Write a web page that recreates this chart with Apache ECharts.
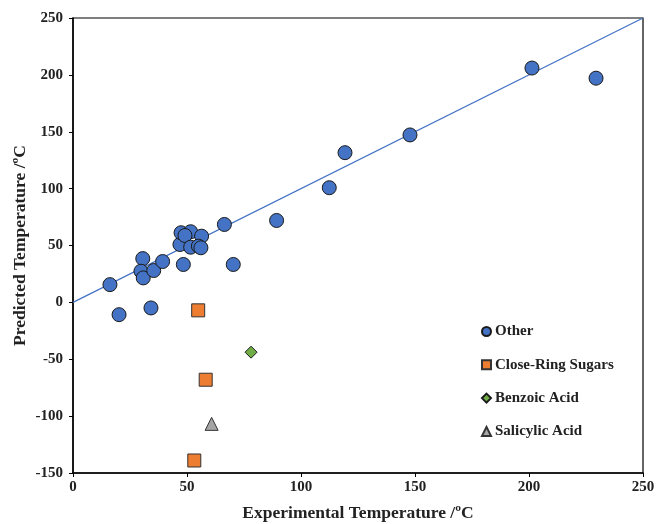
<!DOCTYPE html>
<html><head><meta charset="utf-8">
<script src="https://cdn.jsdelivr.net/npm/echarts@6/dist/echarts.min.js"></script>
<style>html,body{margin:0;padding:0;background:#fff}#c{width:657px;height:524px}</style>
</head><body><div id="c"></div>
<script>
// Other
const otherX = [16.2, 20.2, 30.6, 29.8, 30.8, 34.2, 35.4, 39.3, 46.9, 47.4, 51.6, 49.1, 48.4, 51.6, 56.4, 55.0, 56.1, 66.4, 70.3, 89.3, 112.4, 119.3, 147.8, 201.3, 229.4];
const otherY = [15.6, -10.8, 38.5, 27.4, 21.5, -4.9, 28.0, 35.9, 50.9, 61.2, 62.1, 58.8, 33.3, 48.5, 58.2, 49.4, 48.0, 68.5, 33.3, 72.0, 100.8, 131.6, 147.2, 206.0, 197.1];
// Close-Ring Sugars
const sugarX = [54.9, 58.2, 53.2];
const sugarY = [-7.0, -68.0, -139.0];
// Benzoic Acid
const benzoicX = [78.1];
const benzoicY = [-43.8];
// Salicylic Acid
const salicylicX = [60.8];
const salicylicY = [-106.8];
// y = x reference line
const lineX = [0, 250];
const lineY = [0, 250];
const seriesNames = ['Other', 'Close-Ring Sugars', 'Benzoic Acid', 'Salicylic Acid'];

const zip = (a, b) => a.map((v, i) => [v, b[i]]);
const F = 'Liberation Serif, Times New Roman, serif';

const chart = echarts.init(document.getElementById('c'));
chart.setOption({
  animation: false,
  backgroundColor: '#fff',
  grid: { left: 73, right: 14, top: 18, bottom: 51, show: true, borderColor: '#000', borderWidth: 1.2,
          containLabel: false, outerBoundsMode: 'none' },
  xAxis: {
    type: 'value', min: 0, max: 250, interval: 50,
    name: 'Experimental Temperature /ºC', nameLocation: 'middle', nameGap: 31, nameMoveOverlap: false,
    nameTextStyle: { fontFamily: F, fontWeight: 'bold', fontSize: 17.5, color: '#222' },
    axisLine: { show: true, onZero: false, lineStyle: { color: '#000', width: 1.5 } },
    axisTick: { show: true, inside: false, length: 4, lineStyle: { color: '#000', width: 1 } },
    axisLabel: { fontFamily: F, fontWeight: 'bold', fontSize: 15, color: '#222', margin: 7 },
    splitLine: { show: false }
  },
  yAxis: {
    type: 'value', min: -150, max: 250, interval: 50,
    name: 'Predicted Temperature /ºC', nameLocation: 'middle', nameGap: 44, nameMoveOverlap: false,
    nameTextStyle: { fontFamily: F, fontWeight: 'bold', fontSize: 17.5, color: '#222' },
    axisLine: { show: true, onZero: false, lineStyle: { color: '#000', width: 1.5 } },
    axisTick: { show: true, inside: false, length: 4, lineStyle: { color: '#000', width: 1 } },
    axisLabel: { fontFamily: F, fontWeight: 'bold', fontSize: 15, color: '#222', margin: 10 },
    splitLine: { show: false }
  },
  legend: {
    data: seriesNames,
    orient: 'vertical', left: 476, top: 319, itemGap: 18.3,
    itemWidth: 9, itemHeight: 9,
    textStyle: { fontFamily: F, fontWeight: 'bold', fontSize: 15, color: '#222', padding: [0, 0, 0, -1] }
  },
  series: [
    { name: 'y=x', type: 'line', data: zip(lineX, lineY), symbol: 'none', silent: true,
      lineStyle: { color: '#4472C4', width: 1.2 }, z: 1 },
    { name: seriesNames[0], type: 'scatter', data: zip(otherX, otherY), symbol: 'circle', symbolSize: 14,
      itemStyle: { color: '#4472C4', borderColor: '#1a1a1a', borderWidth: 1, opacity: 1 }, z: 3 },
    { name: seriesNames[1], type: 'scatter', data: zip(sugarX, sugarY), symbol: 'rect', symbolSize: 13,
      itemStyle: { color: '#ED7D31', borderColor: '#333', borderWidth: 1, opacity: 1 }, z: 3 },
    { name: seriesNames[2], type: 'scatter', data: zip(benzoicX, benzoicY), symbol: 'diamond', symbolSize: 12,
      itemStyle: { color: '#70AD47', borderColor: '#1a1a1a', borderWidth: 1, opacity: 1 }, z: 3 },
    { name: seriesNames[3], type: 'scatter', data: zip(salicylicX, salicylicY), symbol: 'triangle', symbolSize: 13,
      itemStyle: { color: '#A5A5A5', borderColor: '#333', borderWidth: 1, opacity: 1 }, z: 3 }
  ]
});
</script></body></html>
